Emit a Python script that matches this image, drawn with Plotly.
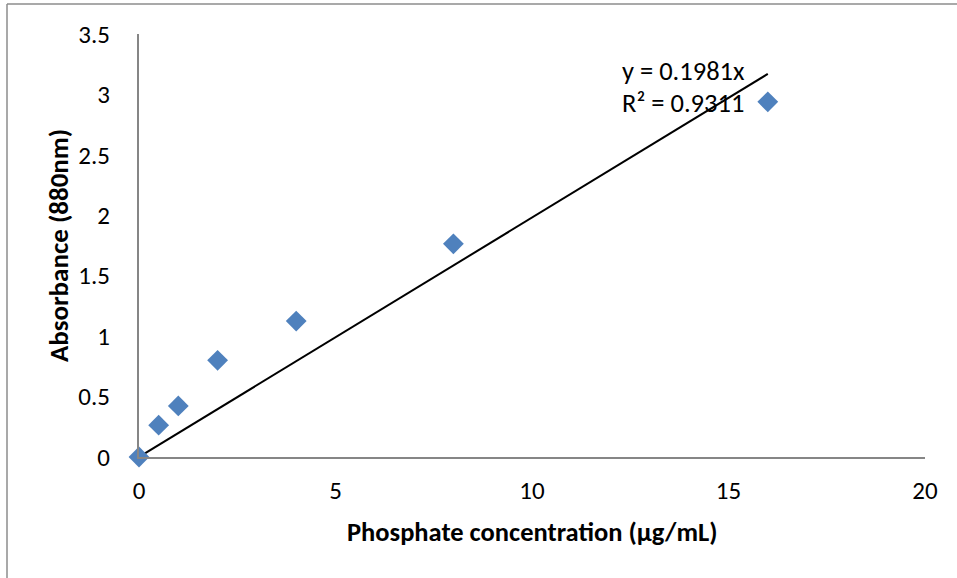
import plotly.graph_objects as go

# Data
concentration = [0, 0.5, 1, 2, 4, 8, 16]
absorbance = [0.0, 0.263, 0.423, 0.80, 1.125, 1.764, 2.939]
trend_slope = 0.1981
r_squared = 0.9311
x_ticks = [0, 5, 10, 15, 20]
y_ticks = [0, 0.5, 1, 1.5, 2, 2.5, 3, 3.5]

FONT = "Calibri, Carlito, Lato, sans-serif"

trend_x = [min(concentration), max(concentration)]
trend_y = [trend_slope * v for v in trend_x]

fig = go.Figure()
fig.add_trace(go.Scatter(
    x=trend_x, y=trend_y, mode="lines",
    line=dict(color="black", width=2),
    showlegend=False, hoverinfo="skip", cliponaxis=False,
))
fig.add_trace(go.Scatter(
    x=concentration, y=absorbance, mode="markers",
    marker=dict(symbol="diamond", size=16, color="#4F81BD", line=dict(width=0)),
    showlegend=False, cliponaxis=False,
))

L, R, T, B = 139, 32, 34, 121
W, H = 957, 578
pw, ph = W - L - R, H - T - B

def px(xp):
    return (xp - L) / pw

def py(yp):
    return (H - B - yp) / ph

fig.update_layout(
    width=W, height=H,
    margin=dict(l=L, r=R, t=T, b=B, pad=0),
    paper_bgcolor="white", plot_bgcolor="white",
    font=dict(family=FONT, size=25, color="black"),
    xaxis=dict(
        range=[0, 20], tickvals=x_ticks, showgrid=False, zeroline=False,
        showline=True, linecolor="#868686", linewidth=2,
        ticks="", ticklabelstandoff=10,
        tickfont=dict(family=FONT, size=25, color="black"),
    ),
    yaxis=dict(
        range=[0, 3.5], tickvals=y_ticks, showgrid=False, zeroline=False,
        showline=True, linecolor="#868686", linewidth=2,
        ticks="", ticklabelstandoff=22,
        tickfont=dict(family=FONT, size=25, color="black"),
    ),
    annotations=[
        dict(text="<b>Phosphate concentra\u200ction (µg/mL)</b>", xref="paper", yref="paper",
             x=px(532), y=py(532), xanchor="center", yanchor="middle", showarrow=False,
             font=dict(family=FONT, size=26.5, color="black")),
        dict(text="<b>Absorbance (880nm)</b>", xref="paper", yref="paper",
             x=px(58), y=py(246), xanchor="center", yanchor="middle", showarrow=False,
             textangle=-90, font=dict(family=FONT, size=27, color="black")),
        dict(text=f"y = {trend_slope}x", xref="paper", yref="paper",
             x=px(620), y=py(71), xanchor="left", yanchor="middle", showarrow=False,
             font=dict(family=FONT, size=26.5, color="black")),
        dict(text=f"R² = {r_squared}", xref="paper", yref="paper",
             x=px(620), y=py(103), xanchor="left", yanchor="middle", showarrow=False,
             font=dict(family=FONT, size=26.5, color="black")),
    ],
    shapes=[
        dict(type="line", xref="paper", yref="paper",
             x0=px(7), y0=py(H + 5), x1=px(7), y1=py(4),
             line=dict(color="#8C8C8C", width=1.5)),
        dict(type="line", xref="paper", yref="paper",
             x0=px(7), y0=py(4), x1=px(W + 5), y1=py(4),
             line=dict(color="#8C8C8C", width=1.5)),
    ],
)

fig.write_html("out.html")
